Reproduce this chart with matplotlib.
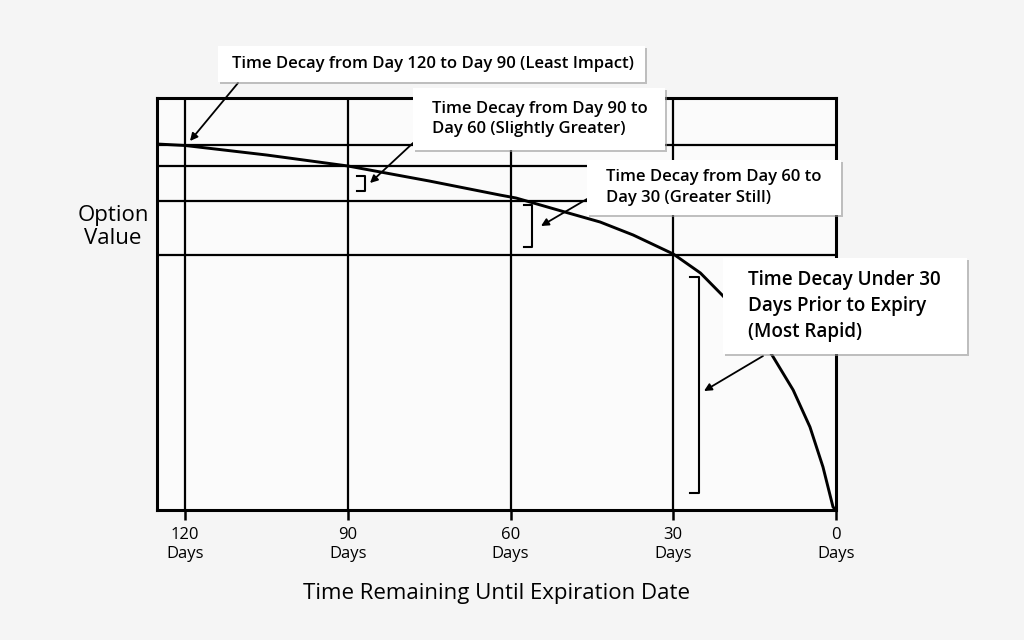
import numpy as np
import matplotlib.pyplot as plt
from matplotlib.patches import Rectangle

# curve (days remaining -> option value, arbitrary units)
days = [125.2, 120, 105, 90, 75, 62, 59, 50, 43.5, 37.4, 30, 25, 21, 16, 11.8, 7.9, 4.8, 2.4, 0.55, 0]
value = [366, 364.5, 355, 344, 329, 315, 312, 298, 288, 275, 256, 237, 215, 186, 155, 120, 83, 43, 3, 0]

tick_days = [120, 90, 60, 30, 0]
tick_labels = ["120\nDays", "90\nDays", "60\nDays", "30\nDays", "0\nDays"]
level_values = [365, 344, 309, 255]

# brackets: (day, top value, bottom value)
brackets = [(86.8, 334, 319), (56.0, 305, 263), (25.3, 233, 17)]

# callout boxes in figure pixels from top-left: x0, y0, x1, y1, text, fontsize, text x
boxes = [
    (218, 46, 645, 82, "Time Decay from Day 120 to Day 90 (Least Impact)", 12.0, 232),
    (413, 88, 665, 150, "Time Decay from Day 90 to\nDay 60 (Slightly Greater)", 12.0, 432),
    (587, 160, 841, 215, "Time Decay from Day 60 to\nDay 30 (Greater Still)", 12.0, 606),
    (723, 258, 967, 354, "Time Decay Under 30\nDays Prior to Expiry\n(Most Rapid)", 13.6, 748),
]
# arrows in figure pixels from top-left: start -> tip
arrows = [((238, 83), (190, 141)), ((413, 143), (370, 183)),
          ((587, 199), (541, 226)), ((763, 356), (704, 391))]

W, H = 1024, 640
plt.rcParams["font.family"] = ["Open Sans", "DejaVu Sans"]
fig = plt.figure(figsize=(W / 100, H / 100), dpi=100, facecolor="#f5f5f5")
ax = fig.add_axes([157 / W, (H - 510) / H, (836 - 157) / W, (510 - 98) / H])
ax.set_facecolor("#fbfbfb")

ax.plot(days, value, color="black", lw=2.1, zorder=4, solid_joinstyle="round")
for d in tick_days[:-1]:
    ax.axvline(d, color="black", lw=1.6, zorder=2)
for v in level_values:
    ax.axhline(v, color="black", lw=1.6, zorder=2)

for d, top, bot in brackets:
    ax.plot([d + 1.6, d, d, d + 1.6], [top, top, bot, bot], color="black", lw=1.5, zorder=3)

ax.set_xlim(125.2, 0)
ax.set_ylim(0, 412)
ax.set_xticks(tick_days)
ax.set_xticklabels(tick_labels, fontsize=12, linespacing=1.25)
ax.set_yticks([])
ax.tick_params(axis="x", direction="out", length=7, width=1.8, pad=5)
for s in ax.spines.values():
    s.set_linewidth(2.2)
ax.set_xlabel("Time Remaining Until Expiration Date", fontsize=16, labelpad=15)
fig.text(113 / W, 1 - 227 / H, "Option\nValue", fontsize=16, ha="center", va="center",
         linespacing=1.15)

for x0, y0, x1, y1, txt, fs, tx in boxes:
    shadow = Rectangle((x0 + 2, H - y1 - 2), x1 - x0, y1 - y0, transform=None,
                       facecolor="#9a9a9a", edgecolor="none", alpha=0.6, zorder=5)
    rect = Rectangle((x0, H - y1), x1 - x0, y1 - y0, transform=None,
                     facecolor="white", edgecolor="none", zorder=6)
    fig.add_artist(shadow)
    fig.add_artist(rect)
    fig.text(tx / W, 1 - (y0 + y1) / 2 / H, txt, fontsize=fs, ha="left", va="center",
             fontweight="semibold", linespacing=1.4, zorder=7)

for (sx, sy), (ex, ey) in arrows:
    ax.annotate("", xy=(ex, H - ey), xytext=(sx, H - sy), xycoords="figure pixels",
                textcoords="figure pixels", zorder=8,
                arrowprops=dict(arrowstyle="-|>", color="black", lw=1.3, mutation_scale=11,
                                shrinkA=0, shrinkB=0))

fig.savefig("out.png", dpi=100, facecolor=fig.get_facecolor())
